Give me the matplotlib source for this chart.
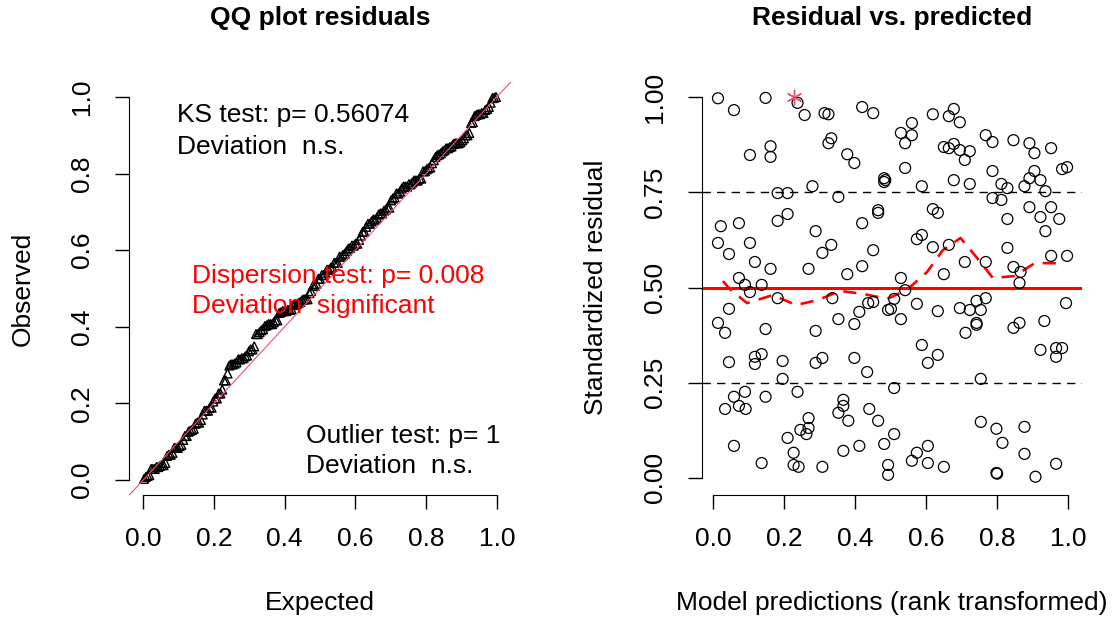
import numpy as np
import matplotlib
matplotlib.use("Agg")
import matplotlib.pyplot as plt

plt.rcParams['font.family'] = ['Liberation Sans', 'DejaVu Sans']

# scaled residuals (x = rank transformed prediction, y = residual)
pred = [0.014, 0.059, 0.148, 0.238, 0.258, 0.314, 0.325, 0.420, 0.451, 0.333,
        0.325, 0.162, 0.162, 0.104, 0.378, 0.398, 0.482, 0.482, 0.280, 0.182,
        0.210, 0.353, 0.465, 0.465, 0.210, 0.182, 0.022, 0.073, 0.420, 0.289,
        0.014, 0.104, 0.045, 0.333, 0.308, 0.451, 0.118, 0.162, 0.269, 0.420,
        0.378, 0.073, 0.090, 0.137, 0.104,
        0.619, 0.678, 0.664, 0.695, 0.560, 0.529, 0.560, 0.541, 0.768, 0.787,
        0.846, 0.891, 0.905, 0.952, 0.650, 0.664, 0.678, 0.695, 0.723, 0.709,
        0.541, 0.787, 0.905, 0.891, 0.922, 0.983, 0.997, 0.485, 0.678, 0.723,
        0.588, 0.812, 0.829, 0.877, 0.936, 0.787, 0.812, 0.891, 0.952, 0.619,
        0.633, 0.922, 0.975, 0.829, 0.936, 0.574, 0.588, 0.619, 0.664, 0.829,
        0.709, 0.768, 0.952, 0.997, 0.846, 0.866, 0.863, 0.650, 0.529,
        0.045, 0.014, 0.034, 0.148, 0.182, 0.289, 0.336, 0.353, 0.398, 0.412,
        0.437, 0.451, 0.493, 0.045, 0.118, 0.137, 0.118, 0.196, 0.289, 0.308,
        0.398, 0.434, 0.196, 0.059, 0.090, 0.073, 0.034, 0.092, 0.148, 0.238,
        0.367, 0.367, 0.353, 0.381, 0.440, 0.465, 0.269, 0.269, 0.246, 0.263,
        0.210, 0.059, 0.367, 0.412, 0.482, 0.227, 0.137, 0.227, 0.241, 0.308,
        0.493, 0.493,
        0.510, 0.501, 0.529, 0.541, 0.574, 0.633, 0.695, 0.723, 0.742, 0.768,
        0.754, 0.742, 0.742, 0.711, 0.846, 0.863, 0.933, 0.994, 0.588, 0.605,
        0.633, 0.922, 0.966, 0.983, 0.966, 0.754, 0.510, 0.754, 0.798, 0.877,
        0.815, 0.605, 0.574, 0.560, 0.605, 0.650, 0.798, 0.800, 0.877, 0.966,
        0.908, 0.510]
resid = [0.997, 0.966, 0.998, 0.985, 0.953, 0.958, 0.955, 0.974, 0.958, 0.892,
         0.879, 0.871, 0.843, 0.848, 0.850, 0.827, 0.787, 0.777, 0.766, 0.748,
         0.748, 0.738, 0.703, 0.696, 0.693, 0.675, 0.661, 0.669, 0.669, 0.648,
         0.617, 0.617, 0.588, 0.612, 0.591, 0.598, 0.567, 0.549, 0.549, 0.556,
         0.535, 0.525, 0.507, 0.507, 0.488,
         0.955, 0.969, 0.950, 0.934, 0.932, 0.906, 0.900, 0.879, 0.900, 0.882,
         0.887, 0.879, 0.853, 0.866, 0.869, 0.866, 0.877, 0.861, 0.858, 0.835,
         0.814, 0.806, 0.806, 0.787, 0.782, 0.811, 0.816, 0.782, 0.782, 0.772,
         0.766, 0.772, 0.761, 0.766, 0.753, 0.735, 0.730, 0.711, 0.711, 0.706,
         0.696, 0.685, 0.680, 0.680, 0.648, 0.627, 0.638, 0.606, 0.612, 0.604,
         0.567, 0.567, 0.583, 0.583, 0.554, 0.541, 0.512, 0.535, 0.525,
         0.444, 0.407, 0.381, 0.391, 0.472, 0.386, 0.472, 0.417, 0.404, 0.436,
         0.459, 0.462, 0.441, 0.304, 0.318, 0.325, 0.299, 0.307, 0.302, 0.315,
         0.315, 0.278, 0.260, 0.213, 0.226, 0.189, 0.181, 0.181, 0.213, 0.226,
         0.205, 0.189, 0.171, 0.150, 0.181, 0.150, 0.157, 0.131, 0.126, 0.115,
         0.105, 0.084, 0.071, 0.084, 0.089, 0.066, 0.039, 0.034, 0.029, 0.029,
         0.034, 0.008,
         0.470, 0.444, 0.417, 0.493, 0.457, 0.438, 0.446, 0.441, 0.465, 0.472,
         0.441, 0.407, 0.402, 0.381, 0.394, 0.407, 0.412, 0.459, 0.349, 0.302,
         0.323, 0.336, 0.341, 0.341, 0.318, 0.260, 0.236, 0.147, 0.129, 0.134,
         0.092, 0.084, 0.066, 0.045, 0.039, 0.029, 0.013, 0.011, 0.063, 0.037,
         0.003, 0.115]

# outlier (simulation envelope exceeded)
outlier_pred = [0.227]
outlier_resid = [1.0]

# 0.5 quantile regression smooth
q50_x = [0.028, 0.047, 0.096, 0.168, 0.234, 0.295, 0.358, 0.424, 0.490, 0.545,
         0.603, 0.647, 0.697, 0.744, 0.788, 0.848, 0.906, 0.970]
q50_y = [0.517, 0.496, 0.459, 0.480, 0.454, 0.467, 0.491, 0.483, 0.470, 0.493,
         0.541, 0.598, 0.630, 0.577, 0.525, 0.530, 0.564, 0.564]

ticks_qq = [0.0, 0.2, 0.4, 0.6, 0.8, 1.0]
ticks_res = [0.0, 0.25, 0.5, 0.75, 1.0]

FS = 19


def r_axes(ax, xt, yt, xfmt, yfmt):
    # base-R look: open axes, spines only over the tick range
    for s in ['top', 'right']:
        ax.spines[s].set_visible(False)
    ax.spines['bottom'].set_bounds(xt[0], xt[-1])
    ax.spines['left'].set_bounds(yt[0], yt[-1])
    ax.set_xticks(xt)
    ax.set_yticks(yt)
    ax.set_xticklabels([xfmt % v for v in xt])
    ax.set_yticklabels([yfmt % v for v in yt], rotation=90, va='center')
    ax.tick_params(length=10, width=1, labelsize=FS, pad=13, colors='black')
    ax.tick_params(axis='y', pad=15)
    ax.xaxis.label.set_va('center')
    ax.yaxis.label.set_va('center')


fig = plt.figure(figsize=(11.15, 6.23), dpi=100)

# QQ plot
ax1 = fig.add_axes([129 / 1115, 1 - 495 / 623, 382 / 1115, 413 / 623])
all_res = np.sort(np.array(resid + outlier_resid))
n = len(all_res)
expected = (np.arange(1, n + 1) - 0.5) / n
ax1.set_xlim(-0.04, 1.04)
ax1.set_ylim(-0.039, 1.039)
ax1.plot([-0.1, 1.1], [-0.1, 1.1], color='#f0506a', lw=0.8, zorder=3)
ax1.scatter(expected, all_res, marker='^', s=40, facecolors='none',
            edgecolors='black', linewidths=1.0, zorder=2)
r_axes(ax1, ticks_qq, ticks_qq, '%.1f', '%.1f')
ax1.set_xlabel('Expected', fontsize=FS)
ax1.set_ylabel('Observed', fontsize=FS)
ax1.xaxis.set_label_coords(0.5, -0.262)
ax1.yaxis.set_label_coords(-0.277, 0.5)
ax1.text(0.5, 1.155, 'QQ plot residuals', transform=ax1.transAxes,
         ha='center', va='center', fontsize=FS, fontweight='bold')

ax1.text(0.096, 0.935, 'KS test: p= 0.56074', fontsize=FS, va='baseline')
ax1.text(0.096, 0.851, 'Deviation  n.s.', fontsize=FS, va='baseline')
ax1.text(0.138, 0.514, 'Dispersion test: p= 0.008', fontsize=FS,
         va='baseline', color='red')
ax1.text(0.138, 0.436, 'Deviation  significant', fontsize=FS,
         va='baseline', color='red')
ax1.text(0.460, 0.097, 'Outlier test: p= 1', fontsize=FS, va='baseline')
ax1.text(0.460, 0.018, 'Deviation  n.s.', fontsize=FS, va='baseline')

# Residual vs predicted
ax2 = fig.add_axes([702 / 1115, 1 - 495 / 623, 380 / 1115, 415 / 623])
ax2.set_xlim(-0.031, 1.039)
ax2.set_ylim(-0.045, 1.045)
ax2.scatter(pred, resid, s=62, facecolors='none', edgecolors='black',
            linewidths=0.9, zorder=2)
ax2.scatter(outlier_pred, outlier_resid, marker=(6, 2, 0), s=110,
            color='#e8506a', linewidths=1.0, zorder=3)
for yv in [0.25, 0.75]:
    ax2.axhline(yv, color='black', lw=1, linestyle=(0, (6, 4.5)), zorder=1)
ax2.axhline(0.5, color='red', lw=2.2, zorder=1)
ax2.plot(q50_x, q50_y, color='red', lw=1.9, linestyle=(0, (5, 3.5)), zorder=1)
r_axes(ax2, [0.0, 0.2, 0.4, 0.6, 0.8, 1.0], ticks_res, '%.1f', '%.2f')
ax2.set_xlabel('Model predictions (rank transformed)', fontsize=FS)
ax2.set_ylabel('Standardized residual', fontsize=FS)
ax2.xaxis.set_label_coords(0.5, -0.26)
ax2.yaxis.set_label_coords(-0.279, 0.5)
ax2.text(0.5, 1.149, 'Residual vs. predicted', transform=ax2.transAxes,
         ha='center', va='center', fontsize=FS, fontweight='bold')

fig.savefig('out.png', dpi=100)
